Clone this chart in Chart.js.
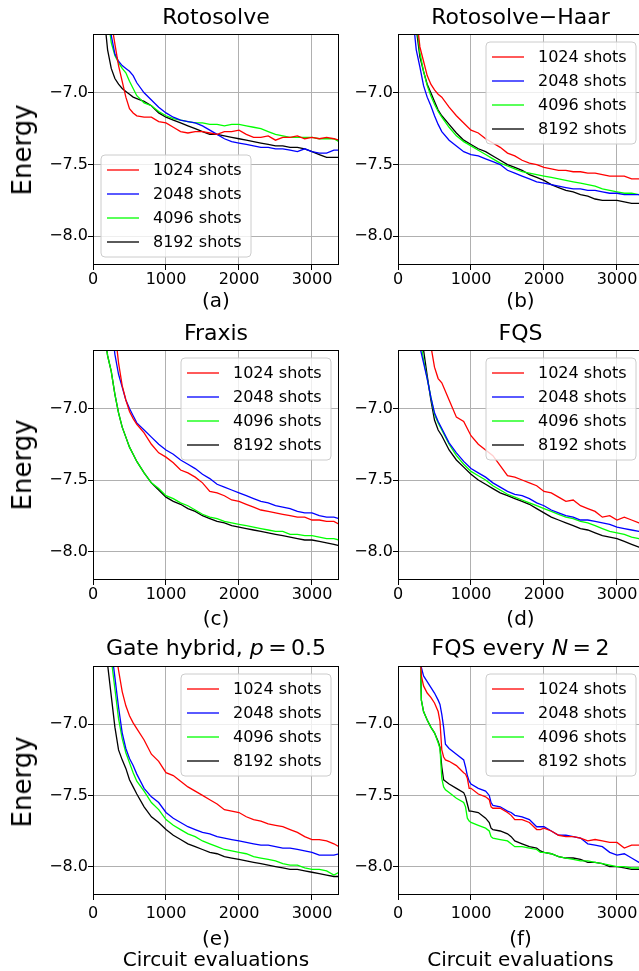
<!DOCTYPE html>
<html><head><meta charset="utf-8">
<script src="https://cdn.jsdelivr.net/npm/chart.js@4.4.1/dist/chart.umd.min.js"></script>
<style>
html,body{margin:0;padding:0;background:#fff;}
body{width:639px;height:971px;overflow:hidden;position:relative;font-family:"DejaVu Sans",sans-serif;color:#000;}
canvas{position:absolute;}
.t{position:absolute;white-space:nowrap;line-height:1;transform:translate(-50%,-50%);}
.r{transform:translate(-50%,-50%) rotate(-90deg);}
</style></head><body>
<script>
// ---------------- data ----------------
const shotLabels = ['1024 shots', '2048 shots', '4096 shots', '8192 shots'];
const xTicks = [0, 1000, 2000, 3000];
const yTicks = [-8.0, -7.5, -7.0];
const xSteps = [150,200,250,300,350,400,450,500,550,600,700,800,900,1000,1100,1200,1300,1400,1500,1600,1700,1800,1900,2000,2100,2200,2300,2400,2500,2600,2700,2800,2900,3000,3100,3200,3300,3370];
const xStepsF = [300,320,350,400,450,500,550,575,600,625,650,700,800,900,925,950,975,1000,1100,1200,1250,1275,1300,1400,1500,1550,1600,1700,1800,1900,1950,2000,2100,2200,2300,2400,2500,2600,2700,2800,2900,3000,3100,3200,3300,3370];

// (a) Rotosolve
const roto1024 = [-5.8,-6.1,-6.5,-6.66,-6.81,-6.92,-7.03,-7.11,-7.14,-7.16,-7.17,-7.17,-7.2,-7.21,-7.24,-7.27,-7.28,-7.27,-7.27,-7.28,-7.29,-7.27,-7.27,-7.26,-7.29,-7.31,-7.31,-7.3,-7.33,-7.31,-7.31,-7.3,-7.32,-7.31,-7.32,-7.31,-7.32,-7.33];
const roto2048 = [-6.0,-6.3,-6.6,-6.73,-6.78,-6.81,-6.83,-6.85,-6.88,-6.93,-7.0,-7.05,-7.1,-7.14,-7.17,-7.19,-7.2,-7.21,-7.23,-7.26,-7.29,-7.32,-7.34,-7.35,-7.36,-7.37,-7.38,-7.38,-7.39,-7.39,-7.4,-7.41,-7.39,-7.41,-7.42,-7.42,-7.4,-7.4];
const roto4096 = [-6.1,-6.45,-6.65,-6.74,-6.79,-6.83,-6.86,-6.92,-6.97,-7.02,-7.07,-7.09,-7.13,-7.16,-7.18,-7.19,-7.2,-7.21,-7.21,-7.22,-7.22,-7.23,-7.22,-7.22,-7.23,-7.24,-7.25,-7.27,-7.29,-7.3,-7.31,-7.31,-7.31,-7.31,-7.32,-7.32,-7.32,-7.34];
const roto8192 = [-6.45,-6.7,-6.83,-6.9,-6.94,-6.97,-6.99,-7.01,-7.03,-7.04,-7.06,-7.09,-7.14,-7.17,-7.19,-7.21,-7.23,-7.25,-7.27,-7.29,-7.29,-7.3,-7.31,-7.32,-7.33,-7.34,-7.35,-7.36,-7.37,-7.37,-7.38,-7.38,-7.39,-7.41,-7.43,-7.45,-7.45,-7.45];
// (b) Rotosolve-Haar
const haar1024 = [-5.8,-6.1,-6.45,-6.68,-6.78,-6.88,-6.94,-6.98,-7.01,-7.03,-7.1,-7.16,-7.21,-7.26,-7.28,-7.32,-7.35,-7.38,-7.42,-7.44,-7.47,-7.49,-7.5,-7.52,-7.53,-7.54,-7.54,-7.55,-7.55,-7.56,-7.56,-7.57,-7.58,-7.58,-7.58,-7.6,-7.6,-7.6];
const haar2048 = [-6.0,-6.45,-6.7,-6.82,-6.95,-7.03,-7.09,-7.16,-7.22,-7.27,-7.33,-7.37,-7.41,-7.43,-7.44,-7.46,-7.48,-7.5,-7.54,-7.56,-7.58,-7.6,-7.62,-7.63,-7.64,-7.65,-7.66,-7.67,-7.67,-7.68,-7.68,-7.69,-7.7,-7.7,-7.71,-7.71,-7.71,-7.72];
const haar4096 = [-5.9,-6.2,-6.5,-6.72,-6.85,-6.95,-7.02,-7.08,-7.13,-7.17,-7.24,-7.3,-7.34,-7.37,-7.4,-7.43,-7.46,-7.49,-7.51,-7.53,-7.55,-7.56,-7.57,-7.58,-7.59,-7.6,-7.61,-7.62,-7.63,-7.64,-7.65,-7.67,-7.68,-7.69,-7.7,-7.7,-7.71,-7.71];
const haar8192 = [-5.9,-6.2,-6.55,-6.75,-6.85,-6.94,-7.0,-7.06,-7.12,-7.16,-7.22,-7.28,-7.33,-7.36,-7.39,-7.41,-7.44,-7.47,-7.5,-7.52,-7.54,-7.57,-7.59,-7.61,-7.64,-7.66,-7.68,-7.69,-7.71,-7.72,-7.74,-7.75,-7.75,-7.75,-7.76,-7.77,-7.77,-7.78];
// (c) Fraxis
const fraxis1024 = [-5.5,-5.8,-6.1,-6.45,-6.68,-6.84,-6.94,-7.02,-7.07,-7.11,-7.17,-7.25,-7.31,-7.34,-7.38,-7.43,-7.45,-7.48,-7.52,-7.58,-7.59,-7.61,-7.64,-7.65,-7.67,-7.69,-7.71,-7.72,-7.73,-7.74,-7.75,-7.76,-7.76,-7.78,-7.78,-7.79,-7.79,-7.81];
const fraxis2048 = [-5.8,-6.1,-6.4,-6.62,-6.76,-6.85,-6.94,-7.0,-7.05,-7.1,-7.15,-7.2,-7.25,-7.29,-7.32,-7.36,-7.39,-7.42,-7.46,-7.49,-7.53,-7.55,-7.57,-7.59,-7.61,-7.63,-7.65,-7.66,-7.68,-7.69,-7.7,-7.72,-7.73,-7.73,-7.75,-7.76,-7.76,-7.77];
const fraxis4096 = [-6.45,-6.63,-6.74,-6.9,-7.03,-7.13,-7.2,-7.27,-7.32,-7.37,-7.45,-7.52,-7.56,-7.61,-7.63,-7.66,-7.68,-7.71,-7.74,-7.76,-7.77,-7.79,-7.8,-7.81,-7.82,-7.83,-7.84,-7.85,-7.86,-7.86,-7.88,-7.88,-7.89,-7.89,-7.9,-7.91,-7.91,-7.92];
const fraxis8192 = [-6.45,-6.63,-6.74,-6.9,-7.03,-7.13,-7.2,-7.27,-7.32,-7.37,-7.45,-7.52,-7.57,-7.62,-7.65,-7.67,-7.7,-7.72,-7.75,-7.77,-7.79,-7.8,-7.82,-7.83,-7.84,-7.85,-7.86,-7.87,-7.88,-7.89,-7.9,-7.91,-7.92,-7.92,-7.93,-7.94,-7.95,-7.96];
// (d) FQS
const fqs1024 = [-5.0,-5.3,-5.6,-5.9,-6.1,-6.35,-6.56,-6.71,-6.79,-6.82,-6.94,-7.06,-7.09,-7.19,-7.25,-7.29,-7.33,-7.4,-7.47,-7.48,-7.5,-7.52,-7.54,-7.58,-7.59,-7.62,-7.65,-7.64,-7.68,-7.7,-7.72,-7.76,-7.75,-7.78,-7.76,-7.78,-7.8,-7.81];
const fqs2048 = [-5.6,-5.9,-6.2,-6.57,-6.68,-6.79,-6.92,-7.03,-7.09,-7.14,-7.24,-7.31,-7.37,-7.42,-7.45,-7.48,-7.52,-7.55,-7.58,-7.6,-7.61,-7.63,-7.66,-7.68,-7.71,-7.73,-7.75,-7.76,-7.78,-7.78,-7.79,-7.8,-7.81,-7.83,-7.84,-7.85,-7.86,-7.87];
const fqs4096 = [-5.6,-5.9,-6.2,-6.5,-6.66,-6.79,-6.92,-7.04,-7.1,-7.15,-7.25,-7.33,-7.39,-7.44,-7.47,-7.5,-7.54,-7.57,-7.6,-7.62,-7.64,-7.66,-7.68,-7.7,-7.72,-7.74,-7.76,-7.77,-7.79,-7.8,-7.82,-7.84,-7.86,-7.87,-7.88,-7.9,-7.91,-7.92];
const fqs8192 = [-5.5,-5.8,-6.0,-6.3,-6.59,-6.77,-6.94,-7.08,-7.15,-7.19,-7.29,-7.36,-7.41,-7.46,-7.5,-7.53,-7.56,-7.59,-7.61,-7.63,-7.65,-7.67,-7.7,-7.73,-7.76,-7.78,-7.8,-7.82,-7.84,-7.85,-7.87,-7.89,-7.9,-7.91,-7.93,-7.95,-7.97,-7.97];
// (e) Gate hybrid, p = 0.5
const hybrid1024 = [-5.5,-5.8,-6.1,-6.45,-6.62,-6.77,-6.87,-6.94,-6.99,-7.03,-7.11,-7.21,-7.26,-7.34,-7.36,-7.4,-7.44,-7.47,-7.5,-7.53,-7.56,-7.6,-7.61,-7.62,-7.65,-7.67,-7.68,-7.7,-7.71,-7.72,-7.74,-7.76,-7.79,-7.81,-7.81,-7.82,-7.84,-7.86];
const hybrid2048 = [-5.9,-6.2,-6.46,-6.67,-6.88,-7.06,-7.17,-7.24,-7.29,-7.35,-7.45,-7.51,-7.55,-7.62,-7.66,-7.69,-7.72,-7.74,-7.76,-7.77,-7.79,-7.8,-7.81,-7.82,-7.83,-7.84,-7.85,-7.85,-7.86,-7.87,-7.87,-7.88,-7.89,-7.9,-7.92,-7.92,-7.92,-7.91];
const hybrid4096 = [-6.0,-6.3,-6.54,-6.75,-6.96,-7.1,-7.2,-7.27,-7.34,-7.4,-7.47,-7.55,-7.6,-7.67,-7.71,-7.74,-7.77,-7.79,-7.82,-7.84,-7.86,-7.88,-7.89,-7.9,-7.91,-7.93,-7.94,-7.95,-7.96,-7.98,-7.99,-7.99,-8.01,-8.02,-8.02,-8.03,-8.06,-8.04];
const hybrid8192 = [-6.2,-6.58,-6.8,-7.02,-7.18,-7.25,-7.31,-7.39,-7.44,-7.49,-7.58,-7.65,-7.69,-7.74,-7.78,-7.81,-7.84,-7.86,-7.88,-7.9,-7.91,-7.93,-7.94,-7.95,-7.96,-7.97,-7.98,-7.99,-8.0,-8.01,-8.02,-8.02,-8.03,-8.04,-8.05,-8.06,-8.07,-8.07];
// (f) FQS every N = 2
const every1024 = [-6.45,-6.66,-6.73,-6.78,-6.81,-6.85,-6.91,-6.98,-7.18,-7.23,-7.25,-7.26,-7.29,-7.34,-7.35,-7.38,-7.45,-7.45,-7.49,-7.51,-7.53,-7.58,-7.59,-7.59,-7.62,-7.64,-7.67,-7.67,-7.69,-7.74,-7.74,-7.73,-7.75,-7.78,-7.79,-7.79,-7.8,-7.82,-7.81,-7.82,-7.83,-7.83,-7.87,-7.85,-7.85,-7.85];
const every2048 = [-6.45,-6.6,-6.66,-6.7,-6.74,-6.78,-6.83,-6.86,-6.93,-7.02,-7.14,-7.17,-7.21,-7.25,-7.3,-7.36,-7.4,-7.42,-7.45,-7.47,-7.5,-7.55,-7.57,-7.58,-7.61,-7.62,-7.64,-7.65,-7.67,-7.72,-7.72,-7.72,-7.75,-7.78,-7.78,-7.79,-7.8,-7.84,-7.85,-7.86,-7.9,-7.92,-7.91,-7.94,-7.97,-7.97];
const every4096 = [-6.37,-6.83,-6.91,-6.97,-7.02,-7.06,-7.13,-7.17,-7.38,-7.44,-7.46,-7.48,-7.52,-7.55,-7.58,-7.66,-7.68,-7.69,-7.71,-7.73,-7.75,-7.79,-7.8,-7.81,-7.82,-7.84,-7.86,-7.86,-7.87,-7.88,-7.9,-7.9,-7.91,-7.93,-7.94,-7.95,-7.96,-7.96,-7.97,-7.98,-7.99,-8.0,-8.0,-8.01,-8.01,-8.02];
const every8192 = [-6.37,-6.83,-6.91,-6.97,-7.02,-7.06,-7.12,-7.16,-7.3,-7.39,-7.4,-7.42,-7.45,-7.48,-7.51,-7.56,-7.61,-7.61,-7.62,-7.66,-7.69,-7.73,-7.74,-7.75,-7.77,-7.79,-7.82,-7.84,-7.86,-7.87,-7.89,-7.9,-7.91,-7.93,-7.94,-7.94,-7.95,-7.97,-7.97,-7.98,-8.0,-8.0,-8.01,-8.02,-8.02,-8.03];

const seriesColors = ['#ff0000', '#0000ff', '#00ff00', '#000000'];
const panelTitles = ['Rotosolve', 'Rotosolve\u2212Haar', 'Fraxis', 'FQS', 'Gate hybrid, <i>p</i>\u2009=\u20090.5', 'FQS every <i>N</i>\u2009=\u20092'];
const panelLetters = ['(a)', '(b)', '(c)', '(d)', '(e)', '(f)'];
const yAxisLabel = 'Energy';
const xAxisLabel = 'Circuit evaluations';

// ---------------- layout ----------------
const panels = [
  {xs: xSteps,  ys: [roto1024, roto2048, roto4096, roto8192],         legend: 'lower left'},
  {xs: xSteps,  ys: [haar1024, haar2048, haar4096, haar8192],         legend: 'upper right'},
  {xs: xSteps,  ys: [fraxis1024, fraxis2048, fraxis4096, fraxis8192], legend: 'upper right'},
  {xs: xSteps,  ys: [fqs1024, fqs2048, fqs4096, fqs8192],             legend: 'upper right'},
  {xs: xSteps,  ys: [hybrid1024, hybrid2048, hybrid4096, hybrid8192], legend: 'upper right'},
  {xs: xStepsF, ys: [every1024, every2048, every4096, every8192],     legend: 'upper right'}
];
const colCanvasLeft = [0, 305];
const colCenter = [216, 520.5];
const rowPlotTop = [34, 350, 666];
const rowPlotH = [231, 230, 229];
const rowTickPad = [0, 0, 4];
const rowTitleY = [17, 333, 648];
const rowLetterY = [300, 617.7, 937.7];
const rowEnergyY = [150, 465, 782];
const CW = 350, YW = 93, PADR = 11, PADT = 10, XH = 30;

const framePlugin = {
  id: 'frame',
  afterDatasetsDraw(chart) {
    const a = chart.chartArea, ctx = chart.ctx;
    ctx.save();
    ctx.strokeStyle = '#000';
    ctx.lineWidth = 1;
    ctx.strokeRect(a.left + 0.5, a.top + 0.5, a.right - a.left - 1, a.bottom - a.top - 1);
    ctx.restore();
  }
};
const boxLegend = {
  id: 'boxLegend',
  afterDraw(chart, args, opts) {
    const ctx = chart.ctx, a = chart.chartArea;
    const w = 150, h = 102, r = 4;
    const x = opts.pos === 'lower left' ? a.left + 8 : a.right - 8 - w;
    const y = opts.pos === 'lower left' ? a.bottom - 8 - h : a.top + 8;
    ctx.save();
    ctx.beginPath();
    ctx.moveTo(x + r, y);
    ctx.lineTo(x + w - r, y); ctx.arcTo(x + w, y, x + w, y + r, r);
    ctx.lineTo(x + w, y + h - r); ctx.arcTo(x + w, y + h, x + w - r, y + h, r);
    ctx.lineTo(x + r, y + h); ctx.arcTo(x, y + h, x, y + h - r, r);
    ctx.lineTo(x, y + r); ctx.arcTo(x, y, x + r, y, r);
    ctx.closePath();
    ctx.fillStyle = 'rgba(255,255,255,0.8)';
    ctx.fill();
    ctx.strokeStyle = '#cccccc';
    ctx.lineWidth = 1;
    ctx.stroke();
    ctx.font = '16px "DejaVu Sans"';
    ctx.textBaseline = 'middle';
    ctx.textAlign = 'left';
    chart.data.datasets.forEach((ds, i) => {
      const cy = y + 15 + i * 24;
      ctx.strokeStyle = ds.borderColor;
      ctx.lineWidth = ds.borderWidth;
      ctx.beginPath();
      ctx.moveTo(x + 6, cy); ctx.lineTo(x + 38, cy);
      ctx.stroke();
      ctx.fillStyle = '#000';
      ctx.fillText(ds.label, x + 52, cy + 1);
    });
    ctx.restore();
  }
};

function addText(html, x, y, size, cls) {
  const d = document.createElement('div');
  d.className = 't' + (cls ? ' ' + cls : '');
  d.style.left = x + 'px';
  d.style.top = y + 'px';
  d.style.fontSize = size + 'px';
  d.innerHTML = html;
  document.body.appendChild(d);
}

const gridOpts = {color: '#b0b0b0', lineWidth: 1, tickLength: 5, tickColor: '#000', tickWidth: 1, drawTicks: true};
const tickFont = {family: 'DejaVu Sans', size: 16};

panels.forEach((p, k) => {
  const col = k % 2, row = Math.floor(k / 2);
  const H = PADT + rowPlotH[row] + XH;
  const cv = document.createElement('canvas');
  cv.width = CW; cv.height = H;
  cv.style.width = CW + 'px'; cv.style.height = H + 'px';
  cv.style.left = colCanvasLeft[col] + 'px';
  cv.style.top = (rowPlotTop[row] - PADT) + 'px';
  document.body.appendChild(cv);
  new Chart(cv, {
    type: 'line',
    data: {
      datasets: p.ys.map((ys, i) => ({
        label: shotLabels[i],
        data: p.xs.map((x, j) => ({x: x, y: ys[j]})),
        borderColor: seriesColors[i],
        borderWidth: 1.3,
        pointRadius: 0,
        tension: 0,
        fill: false,
        clip: 0
      }))
    },
    options: {
      responsive: false,
      animation: false,
      devicePixelRatio: 1,
      events: [],
      layout: {padding: {left: 0, right: PADR, top: PADT, bottom: 0}},
      plugins: {legend: {display: false}, tooltip: {enabled: false}, boxLegend: {pos: p.legend}},
      scales: {
        x: {
          type: 'linear', min: 0, max: 3370,
          afterBuildTicks: s => { s.ticks = xTicks.map(v => ({value: v})); },
          afterFit: s => { s.height = XH; },
          grid: gridOpts,
          border: {display: false},
          ticks: {font: tickFont, color: '#000', padding: rowTickPad[row], maxRotation: 0, autoSkip: false,
                  callback: v => String(v)}
        },
        y: {
          type: 'linear', min: -8.2, max: -6.59,
          afterBuildTicks: s => { s.ticks = yTicks.map(v => ({value: v})); },
          afterFit: s => { s.width = YW; },
          grid: gridOpts,
          border: {display: false},
          ticks: {font: tickFont, color: '#000', padding: 0, autoSkip: false,
                  callback: v => Number(v).toFixed(1).replace('-', '\u2212')}
        }
      }
    },
    plugins: [framePlugin, boxLegend]
  });
  addText(panelTitles[k], colCenter[col], rowTitleY[row], 22);
  addText(panelLetters[k], colCenter[col], rowLetterY[row], 20);
  if (col === 0) addText(yAxisLabel, 21.7, rowEnergyY[row], 26, 'r');
  if (row === 2) addText(xAxisLabel, colCenter[col], 959, 20);
});
</script>
</body></html>
